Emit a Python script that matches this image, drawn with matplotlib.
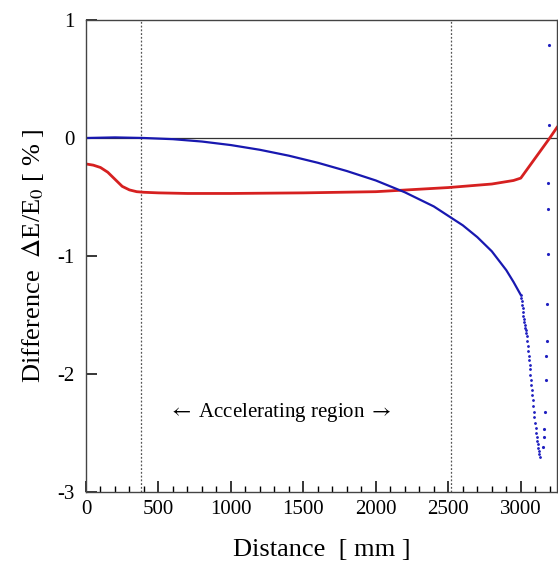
import numpy as np
import matplotlib.pyplot as plt
from matplotlib.ticker import MultipleLocator

plt.rcParams["font.family"] = "Liberation Serif"
plt.rcParams["mathtext.fontset"] = "stix"
plt.rcParams["axes.unicode_minus"] = False

# blue curve (solid part), distance in mm, difference in %
blue_x = [0, 200, 400, 600, 800, 1000, 1200, 1400, 1600, 1800, 2000, 2100,
          2200, 2300, 2400, 2500, 2600, 2700, 2800, 2900, 2950, 3000]
blue_y = [0.0, 0.005, 0.0, -0.01, -0.03, -0.06, -0.10, -0.15, -0.21, -0.28,
          -0.36, -0.41, -0.46, -0.52, -0.58, -0.66, -0.74, -0.84, -0.96,
          -1.12, -1.22, -1.33]

# blue dotted tail going down then back up
tail_x = [3000, 3010, 3020, 3030, 3041, 3052, 3062, 3072, 3083, 3095, 3108,
          3120, 3131]
tail_y = [-1.33, -1.42, -1.52, -1.60, -1.68, -1.82, -1.94, -2.08, -2.22,
          -2.38, -2.52, -2.62, -2.70]
back_x = [3150, 3158, 3163, 3168, 3173, 3176, 3178, 3181, 3185, 3187, 3188,
          3192, 3195]
back_y = [-2.62, -2.53, -2.47, -2.32, -2.05, -1.85, -1.72, -1.41, -0.98,
          -0.60, -0.38, 0.11, 0.79]

# red curve
red_x = [0, 50, 100, 150, 200, 250, 300, 350, 400, 500, 700, 1000, 1500,
         2000, 2500, 2800, 2950, 3000, 3100, 3200, 3250]
red_y = [-0.22, -0.23, -0.25, -0.29, -0.35, -0.41, -0.44, -0.455, -0.46,
         -0.465, -0.47, -0.47, -0.465, -0.455, -0.42, -0.39, -0.36, -0.34,
         -0.17, 0.0, 0.09]

region_edges = [380, 2520]

fig = plt.figure(figsize=(5.58, 5.69), dpi=100)
ax = fig.add_axes([86 / 558, 77 / 569, 471 / 558, 472 / 569])

ax.axhline(0, color="#333333", lw=0.9)
for xv in region_edges:
    ax.axvline(xv, color="#555555", lw=0.9, ls=(0, (1.5, 1.5)))

ax.plot(red_x, red_y, color="#d62020", lw=2.0)
ax.plot(blue_x, blue_y, color="#1818b0", lw=1.6)
# dense dots along the falling tail
t = np.linspace(0, 1, 40)
s = np.linspace(0, 1, len(tail_x))
ax.plot(np.interp(t, s, tail_x), np.interp(t, s, tail_y),
        color="#2020c0", lw=0, marker=".", ms=2.0)
ax.plot(back_x, back_y, color="#2020c0", lw=0, marker=".", ms=2.5)

ax.text(1338, -2.33, r"$\leftarrow$ Accelerating region $\rightarrow$",
        ha="center", va="center", fontsize=15)

ax.set_xlim(0, 3250)
ax.set_ylim(-3, 1)
ax.set_yticks([-3, -2, -1, 0, 1])
ax.set_xticks([0, 500, 1000, 1500, 2000, 2500, 3000])
ax.xaxis.set_minor_locator(MultipleLocator(100))
ax.tick_params(axis="both", which="major", direction="in", length=8,
               width=1.1, color="black", labelsize=15, top=False,
               right=False)
ax.tick_params(axis="x", which="minor", direction="in", length=4,
               width=1.0, color="black", top=False)
ax.tick_params(axis="y", pad=8)
ax.tick_params(axis="x", pad=6)

for sp in ax.spines.values():
    sp.set_color("#444444")
    sp.set_linewidth(1.0)

ax.set_xlabel("Distance  [ mm ]", fontsize=19, labelpad=14)
ax.set_ylabel(r"Difference  $\Delta$E/E$_0$ [ % ]", fontsize=19, labelpad=8)

fig.savefig("out.png", dpi=100)
plt.close(fig)
